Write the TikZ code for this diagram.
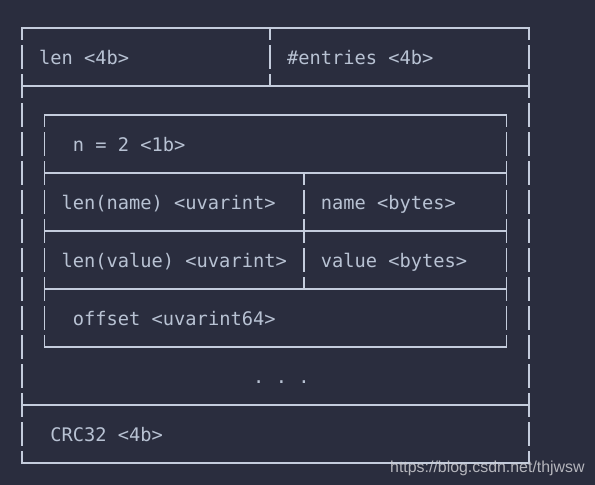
\documentclass[tikz,border=0pt]{standalone}
\usepackage{fontspec}
\usepackage{xcolor}
\usepackage{tikz}
\newfontfamily\codefont{DejaVu Sans Mono}
\newfontfamily\markfont{Liberation Sans}
\definecolor{termbg}{RGB}{42, 45, 62}
\definecolor{termline}{RGB}{196, 204, 220}
\definecolor{termtext}{RGB}{184, 194, 211}
\definecolor{markgray}{RGB}{205, 205, 210}

\begin{document}
\begin{tikzpicture}[x=11.27pt, y=-29pt,
  hline/.style={termline, line width=1.5pt, line cap=rect},
  vline/.style={termline, line width=1.5pt, dash pattern=on 24pt off 5pt, dash phase=12pt},
  field/.style={anchor=base west, inner sep=0pt, yshift=-7pt, text=termtext,
    font=\codefont\fontsize{18.7}{22}\selectfont\frenchspacing}]
% Background
\fill[termbg] (-22pt,28pt) rectangle (573pt,-457pt);
\useasboundingbox (-22pt,28pt) rectangle (573pt,-457pt);

% Outer frame
\draw[hline] (0,0) -- (45,0);
\draw[hline] (0,2) -- (45,2);
\draw[hline] (0,13) -- (45,13);
\draw[hline] (0,15) -- (45,15);
\draw[vline] (0,0) -- (0,15);
\draw[vline] (45,0) -- (45,15);
\draw[vline] (22,0) -- (22,2);

% Entry block
\draw[hline] (2,3) -- (43,3);
\draw[hline] (2,5) -- (43,5);
\draw[hline] (2,7) -- (43,7);
\draw[hline] (2,9) -- (43,9);
\draw[hline] (2,11) -- (43,11);
\draw[vline] (2,3) -- (2,11);
\draw[vline] (43,3) -- (43,11);
\draw[vline] (25,5) -- (25,9);

% Fields
\node[field] (len) at (1.5,1) {len <4b>};
\node[field] (entries) at (23.5,1) {\#entries <4b>};
\node[field] (count) at (4.5,4) {n = 2 <1b>};
\node[field] (namelen) at (3.5,6) {len(name) <uvarint>};
\node[field] (name) at (26.5,6) {name <bytes>};
\node[field] (valuelen) at (3.5,8) {len(value) <uvarint>};
\node[field] (value) at (26.5,8) {value <bytes>};
\node[field] (offset) at (4.5,10) {offset <uvarint64>};
\node[field] (more) at (20.5,12) {. . .};
\node[field] (crc) at (2.5,14) {CRC32 <4b>};

% Watermark
\node[anchor=base west, inner sep=0pt, text=markgray, opacity=0.85,
  font=\markfont\fontsize{15.9}{18}\selectfont] (mark) at (368pt,-444pt) {https://blog.csdn.net/thjwsw};
\end{tikzpicture}
\end{document}
